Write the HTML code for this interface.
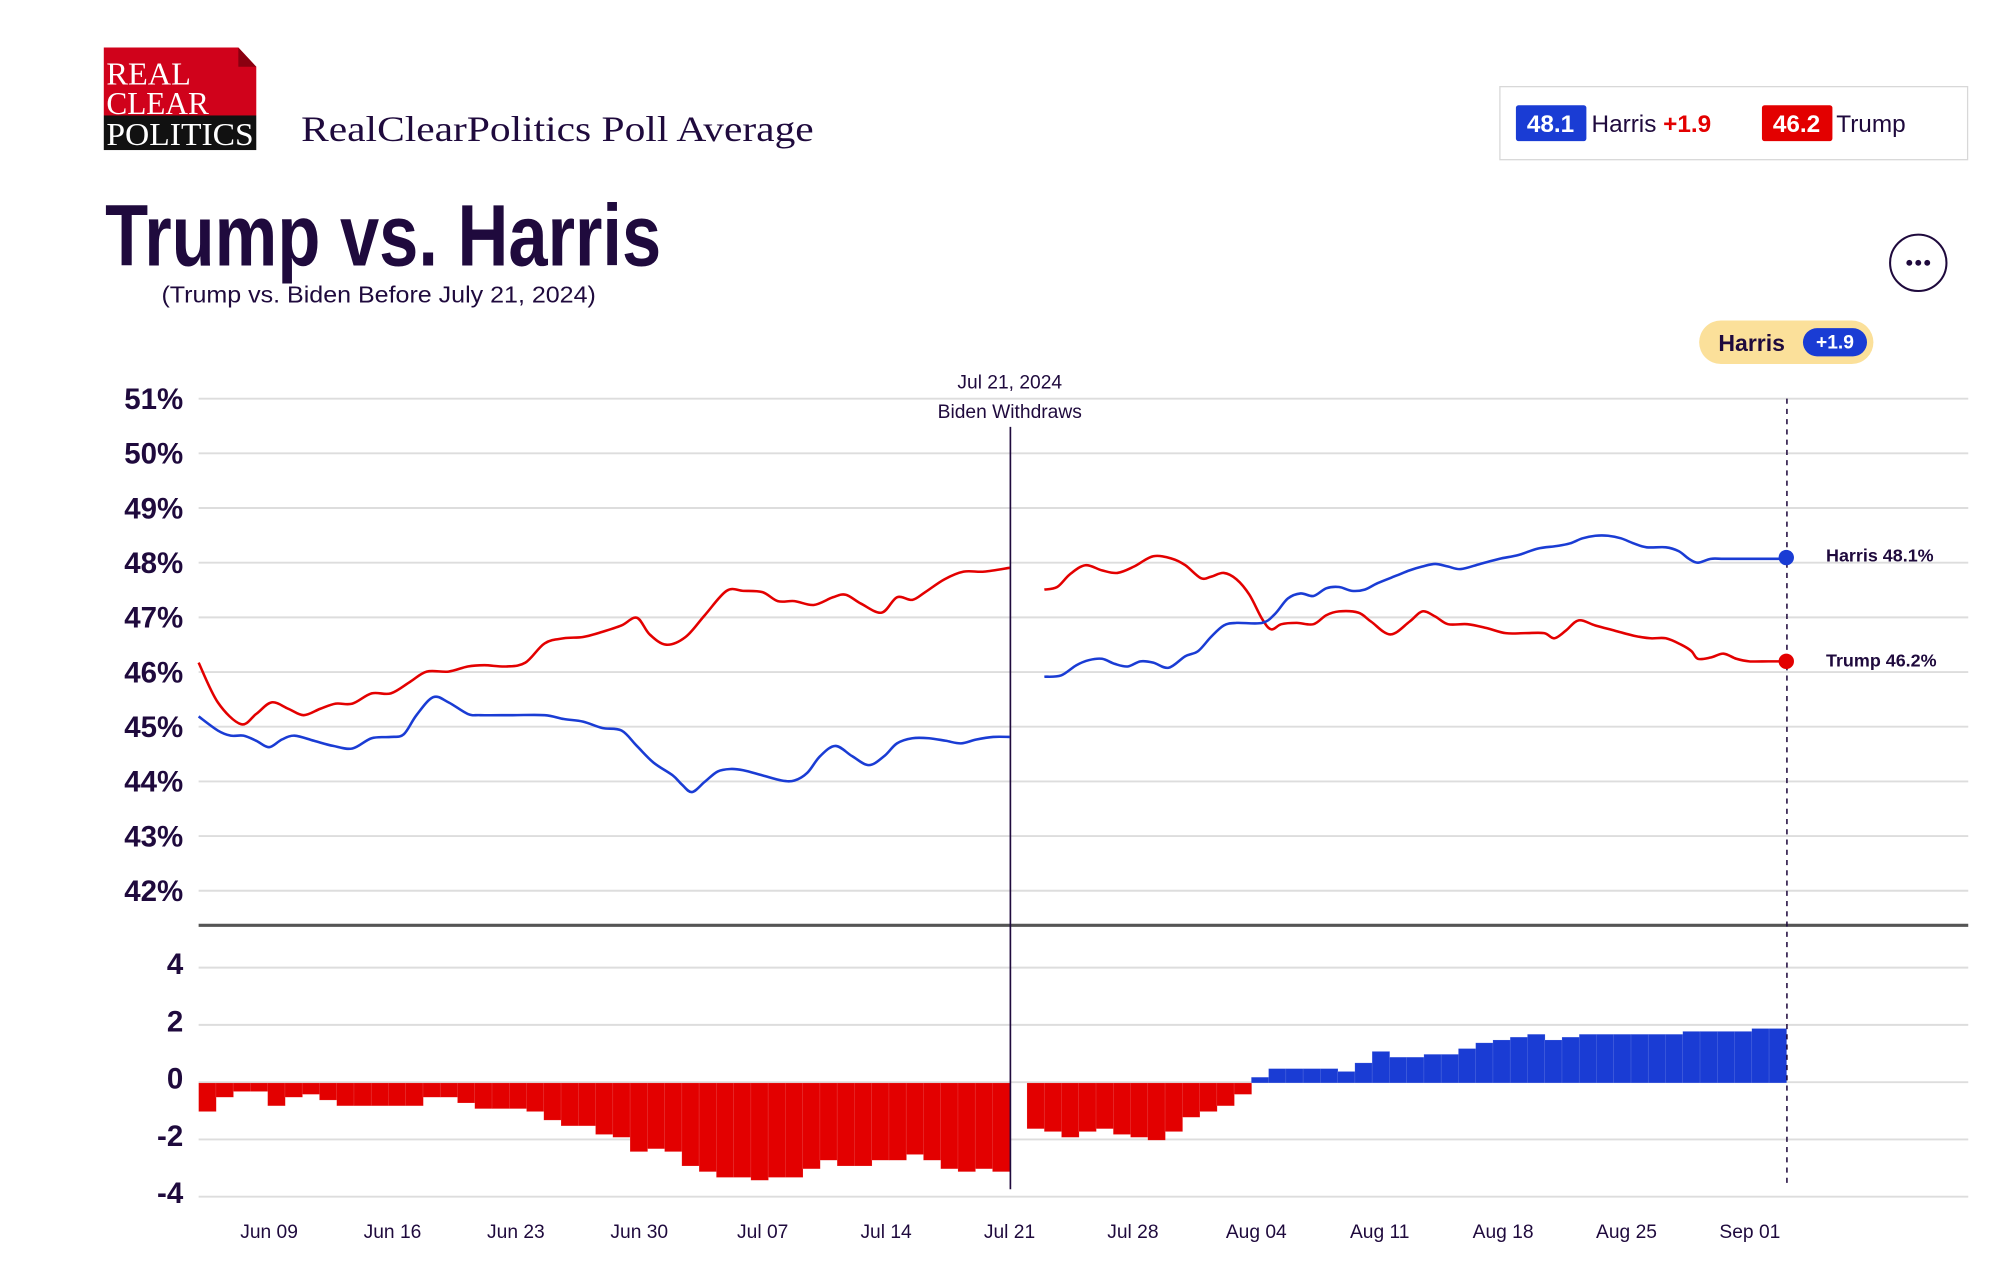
<!DOCTYPE html>
<html><head><meta charset="utf-8"><style>
html,body{margin:0;padding:0;background:#fff;width:1999px;height:1274px;overflow:hidden}
svg{display:block}
text{font-family:"Liberation Sans",sans-serif;fill:#1f0a3d}
.n{font-family:"Liberation Sans Narrow","Liberation Sans",sans-serif}
</style></head><body>
<svg id="s" width="1999" height="1274" viewBox="0 0 1560 994" xmlns="http://www.w3.org/2000/svg">
<polygon points="81,37 186,37 200,52 200,90 81,90" fill="#d0021b"/>
<polygon points="186,37 200,52 186,52" fill="#8a0010"/>
<rect x="81" y="90" width="119" height="27" fill="#111"/>
<text x="83" y="66" style="font-family:'Liberation Serif',serif;fill:#fff;font-size:25px" textLength="66" lengthAdjust="spacingAndGlyphs">REAL</text>
<text x="83" y="89" style="font-family:'Liberation Serif',serif;fill:#fff;font-size:25px" textLength="80" lengthAdjust="spacingAndGlyphs">CLEAR</text>
<text x="83" y="113" style="font-family:'Liberation Serif',serif;fill:#fff;font-size:25px" textLength="115" lengthAdjust="spacingAndGlyphs">POLITICS</text>
<text x="235" y="110" style="font-family:'Liberation Serif',serif;font-size:28px" textLength="400" lengthAdjust="spacingAndGlyphs">RealClearPolitics Poll Average</text>
<rect x="1170.5" y="67.5" width="365" height="57" fill="#fff" stroke="#d8d8d8"/>
<rect x="1183" y="82" width="55" height="28" rx="2" fill="#1a3cd4"/>
<text x="1210" y="103" text-anchor="middle" style="fill:#fff;font-size:19px;font-weight:bold">48.1</text>
<text x="1242" y="103" style="font-size:19px">Harris <tspan style="fill:#e30000;font-weight:bold">+1.9</tspan></text>
<rect x="1375" y="82" width="55" height="28" rx="2" fill="#e30000"/>
<text x="1402" y="103" text-anchor="middle" style="fill:#fff;font-size:19px;font-weight:bold">46.2</text>
<text x="1433" y="103" style="font-size:19px">Trump</text>
<text x="82" y="207" class="n" style="font-size:68px;font-weight:bold" textLength="434" lengthAdjust="spacingAndGlyphs">Trump vs. Harris</text>
<text x="126" y="236" style="font-size:18px" textLength="339" lengthAdjust="spacingAndGlyphs">(Trump vs. Biden Before July 21, 2024)</text>
<circle cx="1497" cy="205" r="22" fill="#fff" stroke="#1f0a3d" stroke-width="1.6"/>
<circle cx="1490" cy="205" r="2.3" fill="#1f0a3d"/><circle cx="1497" cy="205" r="2.3" fill="#1f0a3d"/><circle cx="1504" cy="205" r="2.3" fill="#1f0a3d"/>
<rect x="1326" y="250" width="136" height="34" rx="17" fill="#fbe09a"/>
<text x="1341" y="274" style="font-size:18px;font-weight:bold">Harris</text>
<rect x="1407" y="256" width="50" height="22" rx="11" fill="#1a3cd4"/>
<text x="1432" y="272" text-anchor="middle" style="fill:#fff;font-size:15px;font-weight:bold">+1.9</text>
<g id="grid"></g>
<g id="bars"></g>
<line x1="155" y1="722" x2="1536" y2="722" stroke="#555" stroke-width="2.5"/>
<line x1="788.5" y1="333" x2="788.5" y2="928" stroke="#1f0a3d" stroke-width="1.3"/>
<line x1="1394.5" y1="311" x2="1394.5" y2="926" stroke="#1f0a3d" stroke-width="1.2" stroke-dasharray="4,4"/>
<text x="788" y="303" text-anchor="middle" style="font-size:15px">Jul 21, 2024</text>
<text x="788" y="326" text-anchor="middle" style="font-size:15px">Biden Withdraws</text>
<g id="lines" fill="none" stroke-width="2" stroke-linejoin="round"></g>
<circle cx="1394" cy="435" r="6" fill="#1a3cd4"/>
<circle cx="1394" cy="516" r="6" fill="#e30000"/>
<text x="1425" y="438" style="font-size:14px;font-weight:bold">Harris 48.1%</text>
<text x="1425" y="520" style="font-size:14px;font-weight:bold">Trump 46.2%</text>
<g id="xl"></g>
</svg>
<script>
var NS="http://www.w3.org/2000/svg";
function el(p,t,a,txt){var e=document.createElementNS(NS,t);for(var k in a)e.setAttribute(k,a[k]);if(txt!=null)e.textContent=txt;document.getElementById(p).appendChild(e);return e;}
for(var i=0;i<10;i++){var y=311+i*42.67;el('grid','line',{x1:155,x2:1536,y1:y,y2:y,stroke:'#ddd','stroke-width':1.5});
el('grid','text',{x:143,y:y+8,'text-anchor':'end','class':'n',style:'font-size:23px;font-weight:bold'},(51-i)+'%');}
var bl=[4,2,0,-2,-4];for(i=0;i<5;i++){var y=755+i*44.7;el('grid','line',{x1:155,x2:1536,y1:y,y2:y,stroke:'#ddd','stroke-width':1.5});
el('grid','text',{x:143,y:y+5,'text-anchor':'end','class':'n',style:'font-size:23px;font-weight:bold'},String(bl[i]));}
var v=[-1,-.5,-.3,-.3,-.8,-.5,-.4,-.6,-.8,-.8,-.8,-.8,-.8,-.5,-.5,-.7,-.9,-.9,-.9,-1,-1.3,-1.5,-1.5,-1.8,-1.9,-2.4,-2.3,-2.4,-2.9,-3.1,-3.3,-3.3,-3.4,-3.3,-3.3,-3,-2.7,-2.9,-2.9,-2.7,-2.7,-2.5,-2.7,-3,-3.1,-3,-3.1,null,-1.6,-1.7,-1.9,-1.7,-1.6,-1.8,-1.9,-2,-1.7,-1.2,-1,-.8,-.4,.2,.5,.5,.5,.5,.4,.7,1.1,.9,.9,1,1,1.2,1.4,1.5,1.6,1.7,1.5,1.6,1.7,1.7,1.7,1.7,1.7,1.7,1.8,1.8,1.8,1.8,1.9,1.9];
var z=845,u=22.35,w=1239/v.length;
for(i=0;i<v.length;i++){if(v[i]==null)continue;var h=Math.abs(v[i])*u;el('bars','rect',{x:155+i*w,y:v[i]<0?z:z-h,width:w+0.3,height:h,fill:v[i]<0?'#e30000':'#1a3cd4',stroke:'rgba(255,255,255,0.25)','stroke-width':0.4});}
function path(p){var d='M'+p[0][0]+','+p[0][1];for(var i=0;i<p.length-1;i++){var p0=p[i-1]||p[i],p1=p[i],p2=p[i+1],p3=p[i+2]||p2;
var c1x=p1[0]+(p2[0]-p0[0])/6,c1y=p1[1]+(p2[1]-p0[1])/6,c2x=p2[0]-(p3[0]-p1[0])/6,c2y=p2[1]-(p3[1]-p1[1])/6;
d+=' C'+c1x+','+c1y+' '+c2x+','+c2y+' '+p2[0]+','+p2[1];}return d;}
var T1=[[155,517],[170,548],[188,565],[200,557],[212,548],[225,553],[237,558],[250,553],[262,549],[275,549],[290,541],[305,541],[320,532],[333,524],[350,524],[365,520],[378,519],[395,520],[410,517],[425,502],[440,498],[455,497],[470,493],[485,488],[497,482],[507,495],[520,503],[535,497],[550,480],[567,461],[580,461],[595,462],[607,469],[620,469],[635,472],[650,466],[660,464],[672,471],[688,478],[700,466],[712,468],[722,462],[737,452],[752,446],[768,446],[788,443]];
var H1=[[155,559],[170,570],[180,574],[190,574],[200,578],[210,583],[220,577],[230,574],[245,578],[260,582],[275,584],[290,576],[305,575],[315,573],[325,558],[338,544],[350,548],[365,557],[375,558],[400,558],[425,558],[440,561],[455,563],[470,568],[485,570],[497,582],[510,595],[525,605],[532,612],[540,618],[550,610],[560,602],[570,600],[580,601],[595,605],[610,609],[620,609],[630,603],[640,590],[652,582],[665,590],[678,597],[690,590],[700,580],[712,576],[725,576],[738,578],[750,580],[762,577],[775,575],[788,575]];
var T2=[[815,460],[825,458],[835,448],[847,441],[860,445],[872,447],[885,442],[900,434],[915,436],[925,441],[937,451],[945,450],[955,447],[965,452],[975,464],[985,483],[992,491],[1000,487],[1012,486],[1025,487],[1035,480],[1045,477],[1060,478],[1070,485],[1085,495],[1100,485],[1110,477],[1120,481],[1130,487],[1145,487],[1160,490],[1175,494],[1190,494],[1205,494],[1213,498],[1222,492],[1232,484],[1245,488],[1260,492],[1275,496],[1288,498],[1300,498],[1312,503],[1320,508],[1325,514],[1335,513],[1345,510],[1355,514],[1365,516],[1380,516],[1394,516]];
var H2=[[815,528],[828,527],[840,519],[850,515],[860,514],[870,518],[880,520],[890,516],[900,517],[912,521],[925,512],[935,508],[945,497],[955,488],[965,486],[985,486],[995,479],[1005,467],[1015,463],[1025,465],[1035,459],[1045,458],[1055,461],[1065,460],[1075,455],[1090,449],[1100,445],[1110,442],[1120,440],[1130,442],[1140,444],[1155,440],[1170,436],[1185,433],[1200,428],[1215,426],[1225,424],[1235,420],[1245,418],[1255,418],[1265,420],[1275,424],[1285,427],[1300,427],[1310,430],[1318,436],[1325,439],[1335,436],[1345,436],[1360,436],[1394,436]];
[[T1,'#e30000'],[H1,'#1a3cd4'],[T2,'#e30000'],[H2,'#1a3cd4']].forEach(function(a){el('lines','path',{d:path(a[0]),stroke:a[1]});});
var L=['Jun 09','Jun 16','Jun 23','Jun 30','Jul 07','Jul 14','Jul 21','Jul 28','Aug 04','Aug 11','Aug 18','Aug 25','Sep 01'];
for(i=0;i<L.length;i++)el('xl','text',{x:210+i*96.3,y:966,'text-anchor':'middle',style:'font-size:15px'},L[i]);
</script>
</body></html>
